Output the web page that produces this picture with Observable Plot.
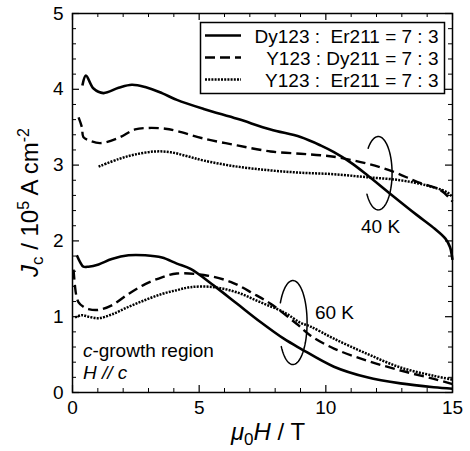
<!DOCTYPE html>
<html><head><meta charset="utf-8">
<script src="https://cdn.jsdelivr.net/npm/d3@7"></script>
<script src="https://cdn.jsdelivr.net/npm/@observablehq/plot@0.6"></script>
<style>
html,body{margin:0;padding:0;background:#fff;}
#chart{width:470px;height:451px;position:relative;}
svg text{font-family:"Liberation Sans",Arial,sans-serif;}
</style></head><body><div id="chart"></div>
<script>
// ---- data ----
const seriesNames = ["Dy123 :\u00a0 Er211 = 7 : 3", "Y123 : Dy211 = 7 : 3", "Y123 :\u00a0 Er211 = 7 : 3"];
const seriesDash = ["none", "10,5", "2,1.2"];
const seriesWidth = [2.6, 2.4, 2.5];

// 40 K
const h40a = [0.39,0.53,0.83,1.22,1.82,2.34,2.87,3.53,4.12,5.18,6.5,7.82,9.0,9.79,10.32,11.0,11.63,12.55,13.6,14.3,14.72,14.9,15.0];
const j40a = [4.05,4.18,4.01,3.95,4.02,4.06,4.03,3.95,3.86,3.74,3.61,3.47,3.37,3.26,3.17,3.03,2.87,2.62,2.34,2.16,2.03,1.92,1.75];
const h40b = [0.24,0.37,0.43,0.63,1.09,1.82,2.47,3.0,3.66,4.12,5.18,6.5,7.82,9.0,9.79,10.32,11.63,12.68,13.6,14.53,15.0];
const j40b = [3.63,3.50,3.37,3.33,3.29,3.36,3.47,3.49,3.48,3.45,3.35,3.26,3.18,3.15,3.13,3.11,3.02,2.91,2.78,2.67,2.52];
const h40c = [1.03,1.82,2.47,3.26,3.87,4.5,5.18,6.5,7.82,9.0,10.3,11.63,12.95,14.0,14.79,15.0];
const j40c = [2.98,3.08,3.14,3.18,3.17,3.12,3.06,2.98,2.93,2.90,2.88,2.84,2.80,2.73,2.64,2.58];
// 60 K
const h60a = [0.17,0.3,0.43,0.63,1.03,1.55,2.21,2.87,3.53,4.12,4.66,5.58,6.5,7.42,8.34,9.0,10.32,11.63,12.95,14.26,15.0];
const j60a = [1.81,1.72,1.66,1.66,1.69,1.76,1.81,1.81,1.78,1.70,1.63,1.41,1.17,0.93,0.71,0.58,0.34,0.20,0.12,0.07,0.05];
const h60b = [0.04,0.10,0.15,0.24,0.43,0.63,1.03,1.55,2.21,2.87,3.53,4.12,5.18,6.24,7.16,7.82,8.87,9.4,10.32,11.63,12.95,14.26,15.0];
const j60b = [1.62,1.40,1.28,1.19,1.13,1.10,1.09,1.15,1.30,1.43,1.52,1.57,1.55,1.46,1.30,1.17,0.90,0.75,0.58,0.42,0.29,0.18,0.11];
const h60c = [0.10,0.37,0.63,1.03,1.55,2.21,2.87,3.53,4.12,4.66,5.58,6.5,7.42,8.34,9.0,9.4,10.32,11.63,12.95,14.26,15.0];
const j60c = [0.99,1.02,1.00,0.98,1.03,1.13,1.22,1.30,1.35,1.39,1.39,1.32,1.19,1.06,0.92,0.87,0.71,0.51,0.33,0.22,0.17];

const curves = [
  {s:0, h:h40a, j:j40a}, {s:1, h:h40b, j:j40b}, {s:2, h:h40c, j:j40c},
  {s:0, h:h60a, j:j60a}, {s:1, h:h60b, j:j60b}, {s:2, h:h60c, j:j60c}
];

// ticks
const xMajor = [0, 5, 10, 15];
const xMinor = [1,2,3,4,6,7,8,9,11,12,13,14];
const yMajor = [0, 1, 2, 3, 4, 5];
const yMinor = [0.2,0.4,0.6,0.8,1.2,1.4,1.6,1.8,2.2,2.4,2.6,2.8,3.2,3.4,3.6,3.8,4.2,4.4,4.6,4.8];

// annotations
const annotLabels = ["40 K", "60 K"];
const annotH = [12.16, 10.34];
const annotJ = [2.19, 1.05];
const ellCx = [12.07, 8.70];
const ellCy = [2.893, 0.923];
const ellRx = [0.545, 0.56];
const ellRy = [0.484, 0.554];
const ellGapStart = [137, 153];
const ellGapEnd = [215, 215];

// ---- build ----
const W = 470, H = 451, mL = 72, mR = 18, mT = 13, mB = 59;
const fw = W - mL - mR, fh = H - mT - mB;

const marks = [];
curves.forEach(c => {
  const rows = c.h.map((h, i) => ({H: h, J: c.j[i]}));
  marks.push(Plot.line(rows, {x: "H", y: "J", stroke: "black", strokeWidth: seriesWidth[c.s],
    strokeLinecap: "butt",
    strokeDasharray: seriesDash[c.s] === "none" ? undefined : seriesDash[c.s], curve: "catmull-rom"}));
});

// ellipses
annotLabels.forEach((_, k) => {
  const pts = [];
  for (let t = ellGapEnd[k] - 360; t <= ellGapStart[k]; t += 3) {
    const a = t * Math.PI / 180;
    pts.push({H: ellCx[k] + ellRx[k] * Math.cos(a), J: ellCy[k] + ellRy[k] * Math.sin(a)});
  }
  marks.push(Plot.line(pts, {x: "H", y: "J", stroke: "black", strokeWidth: 1.5, curve: "linear"}));
});
marks.push(Plot.text(annotLabels, {x: (d, i) => annotH[i], y: (d, i) => annotJ[i], text: d => d,
  fontSize: 19, textAnchor: "middle", lineAnchor: "middle", fill: "black"}));

// ticks (inward)
const tickMarks = (vals, len, w) => [
  Plot.tickX(vals, {x: d => d, insetTop: fh - len, stroke: "black", strokeWidth: w}),
  Plot.tickX(vals, {x: d => d, insetBottom: fh - len, stroke: "black", strokeWidth: w})
];
const tickMarksY = (vals, len, w) => [
  Plot.tickY(vals, {y: d => d, insetRight: fw - len, stroke: "black", strokeWidth: w}),
  Plot.tickY(vals, {y: d => d, insetLeft: fw - len, stroke: "black", strokeWidth: w})
];
marks.push(...tickMarks(xMajor, 7, 1.2), ...tickMarks(xMinor, 4, 1));
marks.push(...tickMarksY(yMajor, 7, 1.2), ...tickMarksY(yMinor, 4, 1));
marks.push(Plot.axisX({ticks: xMajor, tickSize: 0, tickPadding: 8, label: null, fontSize: 19, tickFormat: d => String(d)}));
marks.push(Plot.axisY({ticks: yMajor, tickSize: 0, tickPadding: 9, label: null, fontSize: 19, tickFormat: d => String(d)}));
marks.push(Plot.frame({stroke: "black", strokeWidth: 1.5}));

const chart = Plot.plot({
  width: W, height: H,
  marginLeft: mL, marginRight: mR, marginTop: mT, marginBottom: mB,
  x: {domain: [0, 15]},
  y: {domain: [0, 5]},
  style: {fontFamily: "'Liberation Sans', Arial, sans-serif", fontSize: "19px", color: "black", background: "white"},
  marks
});
document.getElementById("chart").appendChild(chart);

const svg = d3.select(chart);
const sx = chart.scale("x"), sy = chart.scale("y");

// y-axis label
const yl = svg.append("text").attr("transform", `translate(38,${(mT + H - mB) / 2}) rotate(-90)`)
  .attr("text-anchor", "middle").attr("font-size", 24).attr("fill", "black");
yl.append("tspan").attr("font-style", "italic").text("J");
yl.append("tspan").attr("font-size", 17).attr("dy", 5).text("c");
yl.append("tspan").attr("dy", -5).text(" / 10");
yl.append("tspan").attr("font-size", 16).attr("dy", -9).text("5");
yl.append("tspan").attr("dy", 9).text(" A cm");
yl.append("tspan").attr("font-size", 16).attr("dy", -9).text("-2");

// x-axis label
const xl = svg.append("text").attr("x", 268).attr("y", 440).attr("text-anchor", "middle")
  .attr("font-size", 24).attr("fill", "black");
xl.append("tspan").attr("font-style", "italic").text("\u03bc");
xl.append("tspan").attr("font-size", 17).attr("dy", 5).text("0");
xl.append("tspan").attr("dy", -5).attr("font-style", "italic").text("H");
xl.append("tspan").text(" / T");

// region note
const noteH = 0.43, noteJ1 = 0.46, noteJ2 = 0.17;
const n1 = svg.append("text").attr("x", sx.apply(noteH)).attr("y", sy.apply(noteJ1))
  .attr("text-anchor", "start").attr("font-size", 19).attr("fill", "black");
n1.append("tspan").attr("font-style", "italic").text("c");
n1.append("tspan").text("-growth region");
svg.append("text").attr("x", sx.apply(noteH)).attr("y", sy.apply(noteJ2)).attr("font-size", 19)
  .attr("text-anchor", "start").attr("font-style", "italic").attr("fill", "black").text("H // c");

// legend
const lg = svg.append("g");
lg.append("rect").attr("x", 200.5).attr("y", 22.5).attr("width", 244).attr("height", 71)
  .attr("fill", "white").attr("stroke", "black").attr("stroke-width", 1.5);
seriesNames.forEach((name, i) => {
  const cy = 35.5 + i * 22;
  lg.append("line").attr("x1", 205).attr("x2", 241).attr("y1", cy).attr("y2", cy)
    .attr("stroke", "black").attr("stroke-width", seriesWidth[i])
    .attr("stroke-dasharray", seriesDash[i]);
  lg.append("text").attr("x", 438.5).attr("y", cy + 7).attr("text-anchor", "end")
    .attr("font-size", 19).attr("fill", "black").text(name);
});
</script></body></html>
